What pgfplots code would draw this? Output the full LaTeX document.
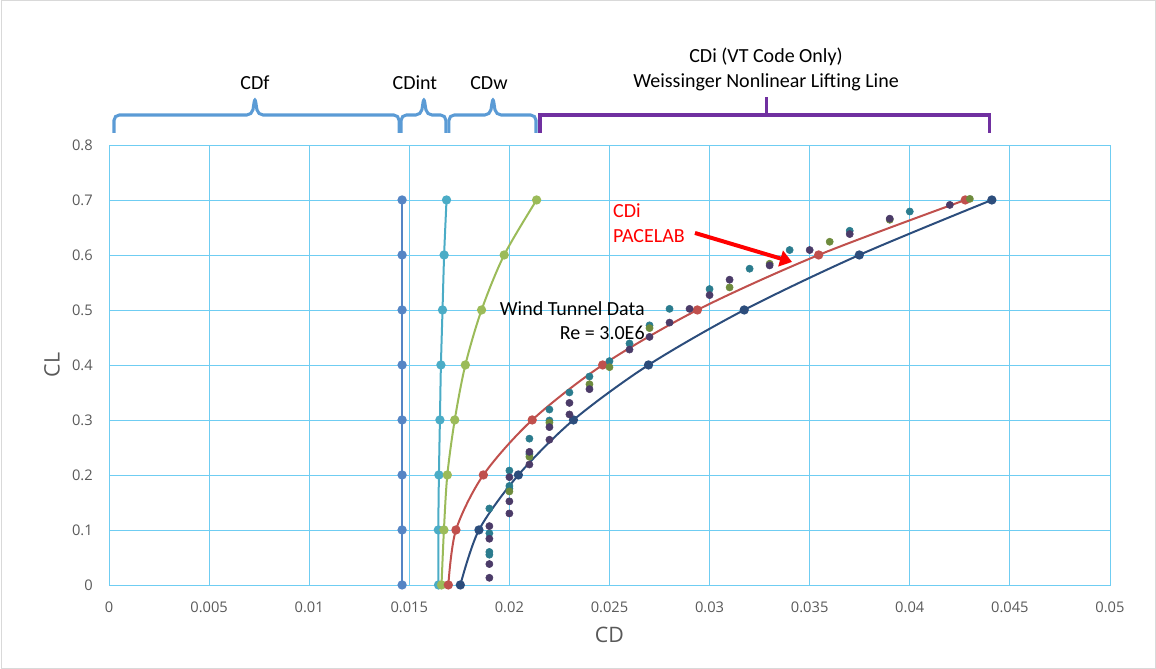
\documentclass[border=0pt]{standalone}
\usepackage{pgfplots}
\pgfplotsset{compat=1.18}
\usepackage{fontspec}
\setmainfont{Carlito}
\newfontfamily\tickfont{Open Sans}
\usetikzlibrary{arrows.meta}
\definecolor{gridc}{HTML}{6FCDF2}
\definecolor{tickc}{HTML}{595959}
\definecolor{cdf}{HTML}{5585C5}
\definecolor{cdint}{HTML}{4BACC6}
\definecolor{cdw}{HTML}{9BBB59}
\definecolor{pace}{HTML}{C0504D}
\definecolor{vt}{HTML}{2C4D7C}
\definecolor{wteal}{HTML}{2B7C8E}
\definecolor{wolive}{HTML}{6E8B3D}
\definecolor{wpurp}{HTML}{4B3B68}
\definecolor{brblue}{HTML}{5B9BD5}
\definecolor{brpurp}{HTML}{7030A0}
\begin{document}
\begin{tikzpicture}
\begin{axis}[
  scale only axis,
  width=750.75pt, height=330pt,
  xmin=0, xmax=0.05, ymin=0, ymax=0.8,
  xtick={0,0.005,...,0.0501}, ytick={0,0.1,...,0.801},
  scaled ticks=false,
  grid=major,
  major grid style={gridc, line width=0.6pt},
  axis line style={gridc, line width=0.6pt},
  major tick length=0pt,
  tick label style={font=\tickfont\fontsize{11}{13}\selectfont, text=tickc},
  /pgf/number format/assume math mode=true,
  xticklabel style={/pgf/number format/fixed, /pgf/number format/precision=3, anchor=center, yshift=-17pt},
  yticklabel style={/pgf/number format/fixed, /pgf/number format/precision=1, anchor=east, xshift=-8.7pt},
  xlabel={CD}, ylabel={CL},
  label style={font=\tickfont\fontsize{16}{18}\selectfont, text=tickc},
  xlabel style={at={(axis description cs:0.5,0)}, anchor=center, yshift=-37.5pt},
  ylabel style={at={(axis description cs:0,0.5)}, anchor=center, yshift=42.75pt},
  clip=false,
  mark size=2.7pt,
]
% CDf
\addplot[cdf, line width=1.5pt, mark=*] coordinates {
(0.01464,0) (0.01464,0.1) (0.01464,0.2) (0.01464,0.3) (0.01464,0.4) (0.01464,0.5) (0.01464,0.6) (0.01464,0.7)};
% CDint
\addplot[cdint, line width=1.5pt, mark=*, smooth] coordinates {
(0.01646,0) (0.01645,0.1) (0.01648,0.2) (0.01653,0.3) (0.01658,0.4) (0.01666,0.5) (0.01674,0.6) (0.01686,0.7)};
% CDw
\addplot[cdw, line width=1.5pt, mark=*, smooth] coordinates {
(0.01661,0) (0.01673,0.1) (0.0169,0.2) (0.01727,0.3) (0.0178,0.4) (0.01861,0.5) (0.01974,0.6) (0.02136,0.7)};
% PACELAB
\addplot[pace, line width=1.5pt, mark=*, smooth] coordinates {
(0.01695,0) (0.01733,0.1) (0.0187,0.2) (0.02114,0.3) (0.02466,0.4) (0.02939,0.5) (0.03545,0.6) (0.04277,0.7)};
% VT code
\addplot[vt, line width=1.5pt, mark=*, smooth] coordinates {
(0.01755,0) (0.01848,0.1) (0.02045,0.2) (0.0232,0.3) (0.02695,0.4) (0.03173,0.5) (0.03748,0.6) (0.0441,0.7)};
% Wind tunnel
\addplot[only marks, mark=*, wteal, mark options={fill=wteal}] coordinates {
(0.019,0.139) (0.019,0.094) (0.019,0.060) (0.019,0.055) (0.020,0.208) (0.020,0.180) (0.020,0.175)
(0.021,0.266) (0.021,0.238) (0.022,0.319) (0.022,0.299) (0.023,0.350) (0.024,0.379) (0.025,0.407)
(0.026,0.439) (0.027,0.472) (0.028,0.502) (0.030,0.538) (0.032,0.575) (0.034,0.609) (0.037,0.644) (0.040,0.679)};
\addplot[only marks, mark=*, wolive, mark options={fill=wolive}] coordinates {
(0.020,0.170) (0.021,0.233) (0.022,0.295) (0.024,0.365) (0.025,0.396) (0.027,0.467) (0.031,0.541)
(0.033,0.584) (0.036,0.624) (0.039,0.664) (0.043,0.702)};
\addplot[only marks, mark=*, wpurp, mark options={fill=wpurp}] coordinates {
(0.019,0.107) (0.019,0.084) (0.019,0.038) (0.019,0.013) (0.020,0.196) (0.020,0.152) (0.020,0.130)
(0.021,0.242) (0.021,0.219) (0.022,0.287) (0.022,0.264) (0.023,0.331) (0.023,0.310) (0.024,0.356)
(0.026,0.428) (0.027,0.451) (0.028,0.477) (0.029,0.502) (0.030,0.527) (0.031,0.555) (0.033,0.581)
(0.035,0.609) (0.037,0.638) (0.039,0.666) (0.042,0.691)};
% annotations
\node[anchor=east, font=\fontsize{15}{17}\selectfont, inner xsep=0pt] at (axis cs:0.02677,0.5018) {Wind Tunnel Data};
\node[anchor=east, font=\fontsize{15}{17}\selectfont, inner xsep=0pt] at (axis cs:0.02677,0.458) {Re = 3.0E6};
\node[anchor=west, font=\fontsize{15}{17}\selectfont, text=red, inner xsep=0pt] at (axis cs:0.02517,0.68) {CDi};
\node[anchor=west, font=\fontsize{15}{17}\selectfont, text=red, inner xsep=0pt] at (axis cs:0.02517,0.6345) {PACELAB};
\draw[red, line width=3pt, -{Triangle[length=9pt,width=12pt]}] (axis cs:0.02927,0.64) -- (axis cs:0.03412,0.5873);
% braces
\draw[brblue, line width=2.3pt, rounded corners=4pt] (axis cs:0.00025,0.8218) -- (axis cs:0.00025,0.8545) -- (axis cs:0.00715,0.8545) -- (axis cs:0.00729,0.8873) -- (axis cs:0.00743,0.8545) -- (axis cs:0.01449,0.8545) -- (axis cs:0.01449,0.8218);
\draw[brblue, line width=2.3pt, rounded corners=4pt] (axis cs:0.01459,0.8218) -- (axis cs:0.01459,0.8545) -- (axis cs:0.01559,0.8545) -- (axis cs:0.01573,0.8873) -- (axis cs:0.01587,0.8545) -- (axis cs:0.01683,0.8545) -- (axis cs:0.01683,0.8218);
\draw[brblue, line width=2.3pt, rounded corners=4pt] (axis cs:0.01698,0.8218) -- (axis cs:0.01698,0.8545) -- (axis cs:0.01904,0.8545) -- (axis cs:0.01918,0.8873) -- (axis cs:0.01932,0.8545) -- (axis cs:0.02133,0.8545) -- (axis cs:0.02133,0.8218);
\draw[brpurp, line width=2.3pt] (axis cs:0.02153,0.8218) -- (axis cs:0.02153,0.8545) -- (axis cs:0.04396,0.8545) -- (axis cs:0.04396,0.8218);
\draw[brpurp, line width=2.3pt] (axis cs:0.03282,0.8545) -- (axis cs:0.03282,0.8873);
\node[font=\fontsize{15}{17}\selectfont] at (axis cs:0.00729,0.9127) {CDf};
\node[font=\fontsize{15}{17}\selectfont] at (axis cs:0.01528,0.9127) {CDint};
\node[font=\fontsize{15}{17}\selectfont] at (axis cs:0.01898,0.9127) {CDw};
\node[font=\fontsize{15}{17}\selectfont] at (axis cs:0.03282,0.96) {CDi (VT Code Only)};
\node[font=\fontsize{15}{17}\selectfont] at (axis cs:0.03282,0.9145) {Weissinger Nonlinear Lifting Line};
% frame / bounding box
\path (rel axis cs:-0.1089,-0.1909) rectangle (rel axis cs:1.0460,1.3295);
\draw[black!15, line width=0.6pt] (rel axis cs:-0.1079,-0.1895) rectangle (rel axis cs:1.0450,1.3281);
\end{axis}
\end{tikzpicture}
\end{document}
